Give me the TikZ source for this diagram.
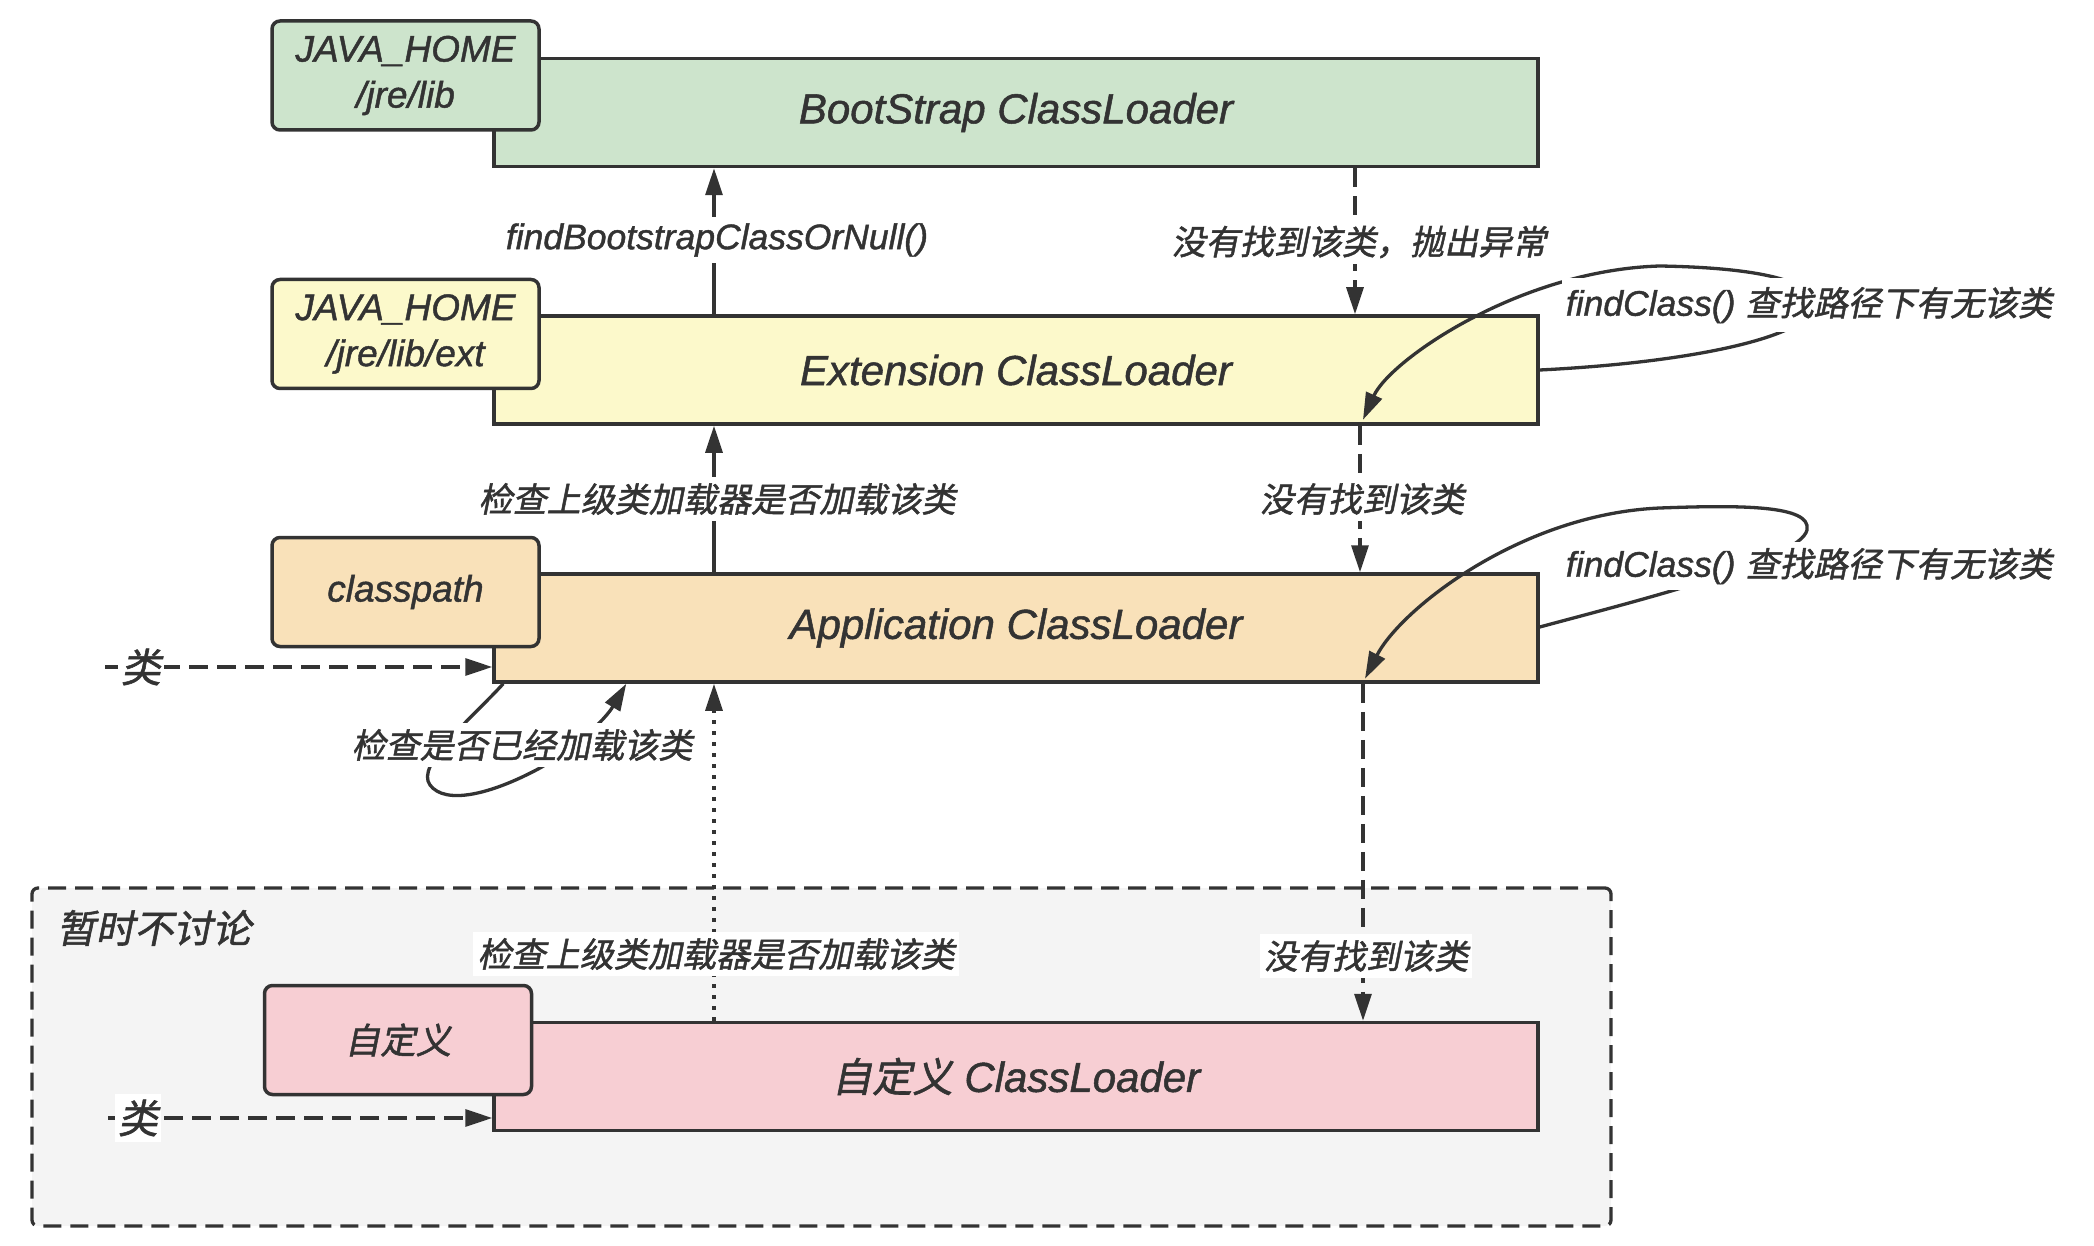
\documentclass[tikz,border=0pt]{standalone}
\usepackage{fontspec}
\setmainfont[FakeBold=1.2]{Liberation Sans}
\newfontfamily\cjk[FakeSlant=0.2,FakeBold=1.4,Scale=0.96]{Noto Sans CJK SC}
\usetikzlibrary{arrows.meta,calc}
\definecolor{ink}{HTML}{333333}
\definecolor{cgreen}{HTML}{CDE4CC}
\definecolor{cyellow}{HTML}{FCF9CB}
\definecolor{corange}{HTML}{F9E1B9}
\definecolor{cpink}{HTML}{F7CED3}
\definecolor{cgrey}{HTML}{F4F4F4}
\newcommand{\zh}[1]{{\cjk #1}}
\begin{document}
\begin{tikzpicture}[x=1pt,y=-1pt,
  every node/.style={text=ink, inner sep=0pt},
  bigbox/.style={draw=ink, line width=3.5pt, minimum width=1044pt, minimum height=108pt, font=\fontsize{42}{48}\selectfont\itshape},
  pathbox/.style={draw=ink, line width=3.5pt, rounded corners=8pt, minimum width=267pt, minimum height=109pt, align=center, font=\fontsize{37}{46}\selectfont\itshape},
  lbl/.style={fill=white, inner xsep=4pt, inner ysep=6pt, font=\fontsize{35.5}{40}\selectfont\itshape},
  conn/.style={draw=ink, line width=3.3pt, -{Triangle[length=27pt,width=17pt]}},
  dsh/.style={dash pattern=on 19pt off 9pt},
  dotted line/.style={dash pattern=on 4pt off 7pt},
]
\useasboundingbox (0,0) rectangle (2094,1246);

% group
\node[draw=ink, fill=cgrey, line width=3.3pt, dash pattern=on 18pt off 9pt, rounded corners=6pt,
  minimum width=1579pt, minimum height=338pt] (grp) at (821.5,1057) {};
\node[font=\fontsize{40.5}{46}\selectfont\itshape] (grpl) at (154,928) {\zh{暂时不讨论}};

% loaders
\node[bigbox, fill=cgreen] (boot) at (1016,112.5) {BootStrap ClassLoader};
\node[pathbox, fill=cgreen] (bootp) at (405.5,75.5) {JAVA\_HOME\\/jre/lib};
\node[bigbox, fill=cyellow] (ext) at (1016,370) {Extension ClassLoader};
\node[pathbox, fill=cyellow] (extp) at (405.5,334) {JAVA\_HOME\\/jre/lib/ext};
\node[bigbox, fill=corange] (app) at (1016,628) {Application ClassLoader};
\node[pathbox, fill=corange] (appp) at (405.5,592) {classpath};
\node[bigbox, fill=cpink] (cust) at (1016,1076.5) {\zh{自定义} ClassLoader};
\node[pathbox, fill=cpink] (custp) at (398,1040) {\zh{自定义}};

% x positions of vertical connectors
\coordinate (xup) at (714,0);
\coordinate (xd1) at (1355,0);
\coordinate (xd2) at (1360,0);
\coordinate (xd3) at (1363,0);

% upward (parent delegation)
\draw[conn] (xup |- ext.north) -- (xup |- boot.south);
\node[lbl] (l1) at (717,240) {findBootstrapClassOrNull()};
\draw[conn] (xup |- app.north) -- (xup |- ext.south);
\node[lbl] (l2) at (717,499) {\zh{检查上级类加载器是否加载该类}};
\draw[conn, dotted line] (xup |- cust.north) -- (xup |- app.south);
\node[lbl] (l3) at (716,954) {\zh{检查上级类加载器是否加载该类}};

% downward (not found)
\draw[conn, dsh] (xd1 |- boot.south) -- (xd1 |- ext.north);
\node[lbl] (l4) at (1359,242) {\zh{没有找到该类，抛出异常}};
\draw[conn, dsh] (xd2 |- ext.south) -- (xd2 |- app.north);
\node[lbl] (l5) at (1362,499) {\zh{没有找到该类}};
\draw[conn, dsh] (xd3 |- app.south) -- (xd3 |- cust.north);
\node[lbl] (l6) at (1366,956) {\zh{没有找到该类}};

% findClass loops
\draw[conn] (ext.east) .. controls (1700,362) and (1815,335) .. (1815,303)
  .. controls (1812,285) and (1775,268) .. (1660,266)
  .. controls (1520,270) and (1390,360) .. ($(ext.south)+(347,-6)$);
\node[lbl, inner ysep=9pt] (l7) at (1809,305) {findClass() \zh{查找路径下有无该类}};
\draw[conn] ($(app.east)+(0,-1)$) .. controls (1640,600) and (1800,560) .. (1807,530)
  .. controls (1812,505) and (1740,505) .. (1660,508)
  .. controls (1520,514) and (1400,610) .. ($(app.south)+(349,-5)$);
\node[lbl] (l8) at (1809,566) {findClass() \zh{查找路径下有无该类}};

% self check loop
\draw[conn] ($(app.south west)+(11,0)$) .. controls (470,720) and (415,765) .. (430,785)
  .. controls (445,805) and (490,795) .. (540,768)
  .. controls (575,748) and (605,720) .. ($(app.south west)+(134,0)$);
\node[lbl] (l9) at (522,745) {\zh{检查是否已经加载该类}};

% incoming classes
\coordinate (s1) at (105,667);
\draw[conn, dsh] (s1) -- (s1 -| app.west);
\node[lbl, inner xsep=3pt, font=\fontsize{41.5}{46}\selectfont\itshape] (k1) at (141,667) {\zh{类}};
\coordinate (s2) at (108,1118);
\draw[conn, dsh] (s2) -- (s2 -| cust.west);
\node[lbl, inner xsep=3pt, font=\fontsize{41.5}{46}\selectfont\itshape] (k2) at (138,1118) {\zh{类}};
\end{tikzpicture}
\end{document}
